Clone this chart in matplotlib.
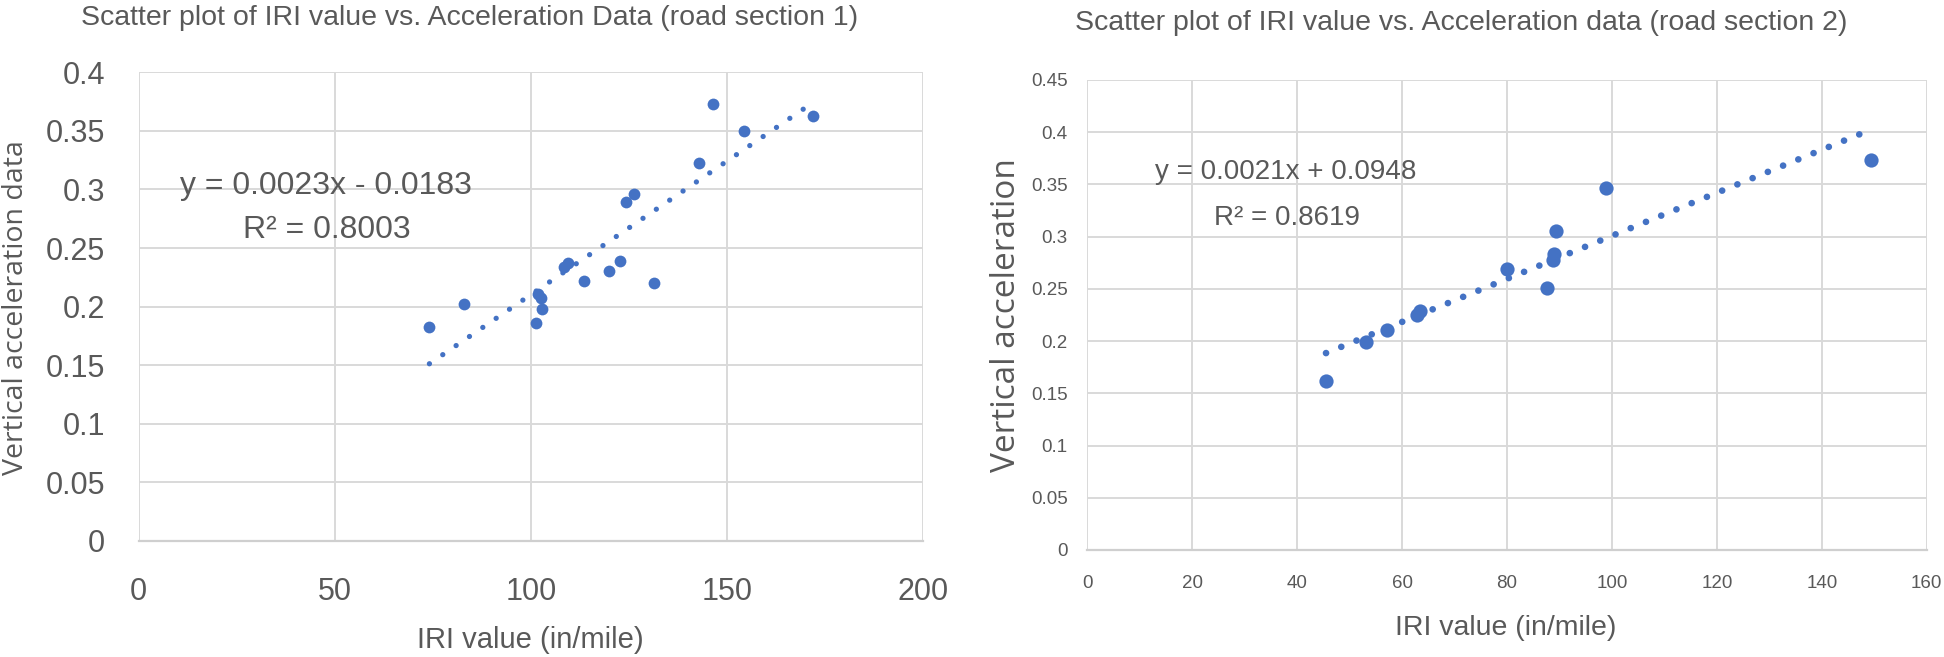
import numpy as np
import matplotlib
matplotlib.use("Agg")
import matplotlib.pyplot as plt
from matplotlib.ticker import FuncFormatter

plt.rcParams['font.family'] = ['Liberation Sans', 'DejaVu Sans']

# road section 1
iri_1 = [74.1, 82.8, 101.4, 101.9, 102.6, 102.7, 108.3, 109.4, 113.4, 119.8,
         122.6, 124.2, 126.2, 131.3, 142.7, 146.3, 154.2, 172.0]
acc_1 = [0.183, 0.202, 0.186, 0.211, 0.207, 0.198, 0.234, 0.237, 0.222, 0.230,
         0.239, 0.289, 0.296, 0.220, 0.323, 0.373, 0.350, 0.363]
trend_1 = [0.00228, -0.0177]
eq_1 = "y = 0.0023x - 0.0183"
r2_1 = "R\u00b2 = 0.8003"

# road section 2
iri_2 = [45.5, 53.2, 57.2, 62.9, 63.5, 80.0, 87.7, 88.7, 89.0, 89.4, 98.8, 149.4]
acc_2 = [0.162, 0.199, 0.211, 0.225, 0.229, 0.269, 0.251, 0.278, 0.283, 0.305,
         0.347, 0.373]
trend_2 = [0.00206, 0.0948]
eq_2 = "y = 0.0021x + 0.0948"
r2_2 = "R\u00b2 = 0.8619"

xticks_1 = [0, 50, 100, 150, 200]
yticks_1 = np.round(np.arange(0, 0.401, 0.05), 2)
xticks_2 = [0, 20, 40, 60, 80, 100, 120, 140, 160]
yticks_2 = np.round(np.arange(0, 0.451, 0.05), 2)

blue = '#4472C4'
grey_txt = '#595959'
grid_c = '#d9d9d9'

W, H = 1944, 657
fig = plt.figure(figsize=(W / 100, H / 100), dpi=100)


def px(x, y):
    return x / W, 1 - y / H


def style_axes(ax, xt, yt, xlim, ylim, fs, padx, pady):
    ax.set_xlim(*xlim)
    ax.set_ylim(*ylim)
    ax.set_xticks(xt)
    ax.set_yticks(yt)
    ax.xaxis.set_major_formatter(FuncFormatter(lambda v, p: f'{v:g}'))
    ax.yaxis.set_major_formatter(FuncFormatter(lambda v, p: f'{v:g}'))
    ax.grid(True, color=grid_c, lw=1.4, zorder=0)
    ax.set_axisbelow(True)
    for s in ['left', 'top', 'right']:
        ax.spines[s].set_visible(False)
    ax.spines['bottom'].set_color('#cfcfcf')
    ax.spines['bottom'].set_linewidth(1.6)
    ax.tick_params(length=0, labelsize=fs, colors=grey_txt)
    ax.tick_params(axis='x', pad=padx)
    ax.tick_params(axis='y', pad=pady)


# left chart
ax1 = fig.add_axes([138.7 / W, (H - 541) / H, 784.6 / W, 468.7 / H])
style_axes(ax1, xticks_1, yticks_1, (0, 200), (0, 0.4), 22, 26, 24)
ax1.scatter(iri_1, acc_1, s=72, color=blue, zorder=3, linewidths=0)
tx1 = np.array([min(iri_1), max(iri_1)])
ax1.plot(tx1, trend_1[0] * tx1 + trend_1[1], color=blue, lw=3.8,
         linestyle=(0, (0.01, 3.05)), dash_capstyle='round', zorder=4)

fig.text(*px(470, 18), "Scatter plot of IRI value vs. Acceleration Data (road section 1)",
         ha='center', va='center', fontsize=20.5, color=grey_txt)
fig.text(*px(16, 308), "Vertical acceleration data", rotation=90, ha='center',
         va='center', fontsize=20.5, color=grey_txt, family=['Open Sans', 'DejaVu Sans'])
fig.text(*px(530, 640), "IRI value (in/mile)", ha='center', va='center',
         fontsize=21, color=grey_txt)
fig.text(*px(326, 186), eq_1, ha='center', va='center', fontsize=23, color=grey_txt)
fig.text(*px(327, 230), r2_1, ha='center', va='center', fontsize=23, color=grey_txt)

# right chart
ax2 = fig.add_axes([1087.3 / W, (H - 550) / H, 839.4 / W, 470 / H])
style_axes(ax2, xticks_2, yticks_2, (0, 160), (0, 0.45), 13.5, 18, 14)
ax2.scatter(iri_2, acc_2, s=105, color=blue, zorder=3, linewidths=0)
tx2 = np.array([min(iri_2), max(iri_2)])
ax2.plot(tx2, trend_2[0] * tx2 + trend_2[1], color=blue, lw=4.8,
         linestyle=(0, (0.01, 2.46)), dash_capstyle='round', zorder=4)

fig.text(*px(1461, 23), "Scatter plot of IRI value vs. Acceleration data (road section 2)",
         ha='center', va='center', fontsize=20.5, color=grey_txt)
fig.text(*px(1006, 315), "Vertical acceleration", rotation=90, ha='center',
         va='center', fontsize=24, color=grey_txt, family=['Open Sans', 'DejaVu Sans'])
fig.text(*px(1506, 628), "IRI value (in/mile)", ha='center', va='center',
         fontsize=20.5, color=grey_txt)
fig.text(*px(1286, 172), eq_2, ha='center', va='center', fontsize=20, color=grey_txt)
fig.text(*px(1287, 218), r2_2, ha='center', va='center', fontsize=20, color=grey_txt)

fig.savefig('out.png', dpi=100, facecolor='white')
